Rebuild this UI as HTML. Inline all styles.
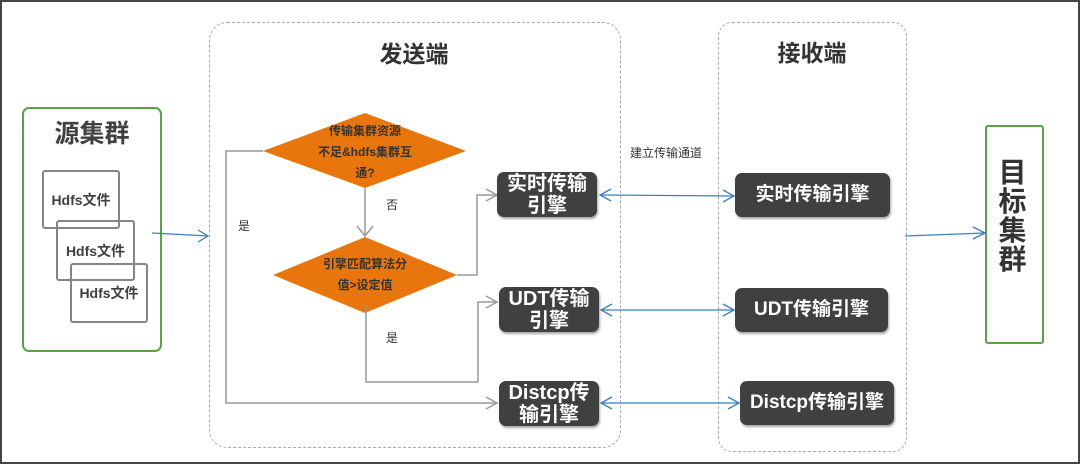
<!DOCTYPE html>
<html><head><meta charset="utf-8"><style>
body{margin:0;width:1080px;height:464px;overflow:hidden;background:#fff;font-family:"Liberation Sans","Noto Sans CJK SC",sans-serif;}
.a{position:absolute;}
.eng{position:absolute;background:#404040;color:#fff;border-radius:7px;font-weight:bold;display:flex;align-items:center;justify-content:center;text-align:center;box-shadow:1px 2px 2px rgba(0,0,0,.35);line-height:1.1;white-space:nowrap;}
.file{position:absolute;border:2px solid #858585;border-radius:3px;background:transparent;font-weight:bold;font-size:14px;color:#404040;display:flex;align-items:center;justify-content:center;}
</style></head><body>
<div class="a" style="left:0;top:0;width:1076px;height:460px;border:2px solid #444;"></div>
<div class="a" style="left:209px;top:22px;width:410px;height:424px;border:1px dashed #aaa;border-radius:18px;"></div>
<div class="a" style="left:718px;top:22px;width:187px;height:428px;border:1px dashed #aaa;border-radius:14px;"></div>
<div class="a" style="left:22px;top:107px;width:136px;height:241px;border:2px solid #5aa14a;border-radius:7px;"></div>
<div class="a" style="left:985px;top:125px;width:55px;height:215px;border:2px solid #5aa14a;border-radius:3px;"></div>
<div class="file" style="left:42px;top:170px;width:74px;height:55px;">Hdfs文件</div>
<div class="file" style="left:56px;top:220px;width:75px;height:57px;">Hdfs文件</div>
<div class="file" style="left:70px;top:263px;width:74px;height:56px;">Hdfs文件</div>
<div class="a" style="left:22px;top:114px;width:140px;text-align:center;font-size:25px;font-weight:bold;color:#404040;">源集群</div>
<div class="a" style="left:309px;top:35px;width:210px;text-align:center;font-size:23px;font-weight:bold;color:#333;">发送端</div>
<div class="a" style="left:712px;top:34px;width:200px;text-align:center;font-size:23px;font-weight:bold;color:#333;">接收端</div>
<div class="a" style="left:983px;top:158px;width:59px;text-align:center;font-size:28px;font-weight:bold;color:#333;line-height:29px;">目<br>标<br>集<br>群</div>
<svg class="a" style="left:0;top:0" width="1080" height="464">
<polygon points="263,151 365,113 466,151 365,188" fill="#e8760d"/>
<polygon points="273,275 365,237 457,275 365,313" fill="#e8760d"/>
<g fill="none" stroke="#999" stroke-width="1.5">
<polyline points="263,151 226,151 226,403 497,403"/>
<polyline points="365,188 365,236"/>
<polyline points="357,226 365,236 373,226"/>
<polyline points="457,275 477,275 477,195 496,195"/>
<polyline points="366,305 366,382 478,382 478,302 497,302"/>
<polyline points="486,189 497,195 486,201"/>
<polyline points="486,296 497,302 486,308"/>
<polyline points="486,397 497,403 486,409"/>
</g>
<g fill="none" stroke="#3a7ec4" stroke-width="1.3">
<polyline points="152,233 208,236"/><polyline points="198,230 208,236 198,242"/>
<polyline points="905,236 985,233"/><polyline points="973,227 985,233 973,239"/>
<polyline points="600,195 734,196"/><polyline points="611,189 600,195 611,201"/><polyline points="723,190 734,196 723,202"/>
<polyline points="601,310 734,310"/><polyline points="612,304 601,310 612,316"/><polyline points="723,304 734,310 723,316"/>
<polyline points="601,403 739,403"/><polyline points="612,397 601,403 612,409"/><polyline points="728,397 739,403 728,409"/>
</g>
</svg>
<div class="a" style="left:300px;top:121px;width:130px;text-align:center;font-size:12px;line-height:21px;color:#333;font-weight:bold;">传输集群资源<br>不足&amp;hdfs集群互<br>通?</div>
<div class="a" style="left:300px;top:254px;width:130px;text-align:center;font-size:12px;line-height:21px;color:#333;font-weight:bold;">引擎匹配算法分<br>值&gt;设定值</div>
<div class="a" style="left:238px;top:217px;font-size:12px;color:#333;">是</div>
<div class="a" style="left:386px;top:196px;font-size:12px;color:#333;">否</div>
<div class="a" style="left:386px;top:329px;font-size:12px;color:#333;">是</div>
<div class="a" style="left:630px;top:144px;font-size:12px;color:#333;">建立传输通道</div>
<div class="eng" style="left:497px;top:172px;width:100px;height:45px;font-size:20px;">实时传输<br>引擎</div>
<div class="eng" style="left:499px;top:287px;width:100px;height:45px;font-size:20px;">UDT传输<br>引擎</div>
<div class="eng" style="left:499px;top:381px;width:100px;height:45px;font-size:20px;">Distcp传<br>输引擎</div>
<div class="eng" style="left:735px;top:173px;width:155px;height:44px;font-size:19px;">实时传输引擎</div>
<div class="eng" style="left:735px;top:288px;width:153px;height:44px;font-size:19px;">UDT传输引擎</div>
<div class="eng" style="left:740px;top:381px;width:154px;height:44px;font-size:19px;">Distcp传输引擎</div>
</body></html>
